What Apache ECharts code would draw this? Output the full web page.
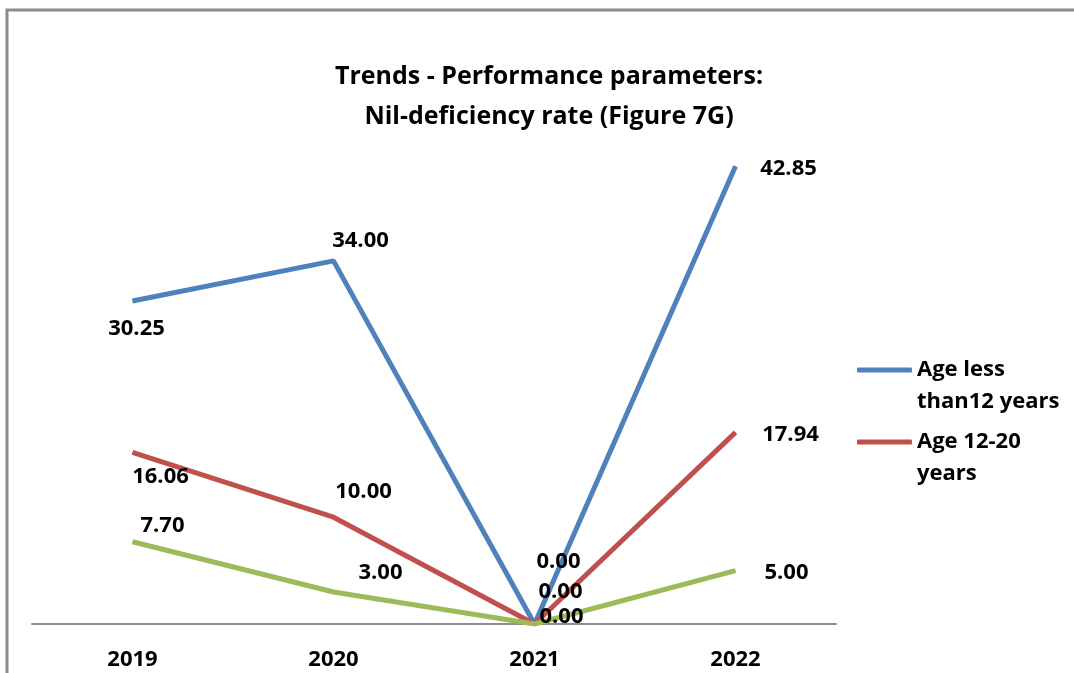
<!doctype html>
<html lang="en">
<head>
    <meta charset="UTF-8">
    <title>Nil-deficiency rate</title>
    <script src="https://cdn.jsdelivr.net/npm/echarts@6/dist/echarts.min.js"></script>
    <style>
        body { margin: 0; background: #fff; }
        #main { width: 1074px; height: 673px; }
    </style>
</head>
<body>
<div id="main"></div>
<script type="text/javascript">
    var years = ['2019', '2020', '2021', '2022'];
    var under12 = [30.25, 34.00, 0.00, 42.85];
    var age12to20 = [16.06, 10.00, 0.00, 17.94];
    var above20 = [7.70, 3.00, 0.00, 5.00];

    // label offsets from each point (centre of text), in px
    var offBlue = [[4, 28], [27, -20], [24, -62], [53, 2]];
    var offRed = [[28, 24], [30, -25], [26, -32], [55, 2]];
    var offGreen = [[30, -16], [47, -19], [27, -7], [51, 2]];

    var font = '"Open Sans", sans-serif';

    function makeData(values, offsets) {
        return values.map(function (v, i) {
            return {
                value: v,
                label: { offset: offsets[i] }
            };
        });
    }

    function makeSeries(name, values, offsets, color) {
        return {
            name: name,
            type: 'line',
            data: makeData(values, offsets),
            symbol: 'circle',
            symbolSize: 1,
            itemStyle: { color: color },
            lineStyle: { color: color, width: 5 },
            label: {
                show: true,
                position: 'inside',
                align: 'center',
                verticalAlign: 'middle',
                color: '#000',
                fontFamily: font,
                fontWeight: 'bold',
                fontSize: 22,
                formatter: function (p) { return p.value.toFixed(2); }
            },
            emphasis: { disabled: true },
            animation: false
        };
    }

    var myChart = echarts.init(document.getElementById('main'));

    var option = {
        backgroundColor: '#fff',
        title: {
            text: 'Trends - Performance parameters:\nNil-deficiency rate (Figure 7G)',
            left: 544,
            top: 52,
            textAlign: 'center',
            textStyle: {
                fontFamily: font,
                fontWeight: 'bold',
                fontSize: 25,
                lineHeight: 40,
                color: '#000'
            }
        },
        legend: {
            orient: 'vertical',
            left: 852,
            top: 317,
            data: ['Age less\nthan12 years', 'Age 12-20\nyears'],
            icon: 'roundRect',
            itemWidth: 55,
            itemHeight: 5,
            itemGap: -24,
            formatter: function (name) { return '\n' + name; },
            textStyle: {
                fontFamily: font,
                fontWeight: 'bold',
                fontSize: 22,
                lineHeight: 32,
                color: '#000'
            }
        },
        grid: {
            left: 32,
            right: 238,
            top: 90,
            bottom: 49,
            containLabel: false
        },
        xAxis: {
            type: 'category',
            data: years,
            boundaryGap: true,
            axisLine: { lineStyle: { color: '#8c8c8c', width: 2 } },
            axisTick: { show: false },
            axisLabel: {
                margin: 25,
                color: '#000',
                fontFamily: font,
                fontWeight: 'bold',
                fontSize: 22
            }
        },
        yAxis: {
            type: 'value',
            min: 0,
            max: 50,
            show: false
        },
        graphic: [{
            type: 'polyline',
            shape: { points: [[7, 673], [7, 10], [1074, 10]] },
            style: { stroke: '#8c8c8c', lineWidth: 3, fill: null }
        }],
        series: [
            makeSeries('Age less\nthan12 years', under12, offBlue, '#4F81BD'),
            makeSeries('Age 12-20\nyears', age12to20, offRed, '#C0504D'),
            makeSeries('Age above 20 years', above20, offGreen, '#9BBB59')
        ]
    };

    myChart.setOption(option);
</script>
</body>
</html>
